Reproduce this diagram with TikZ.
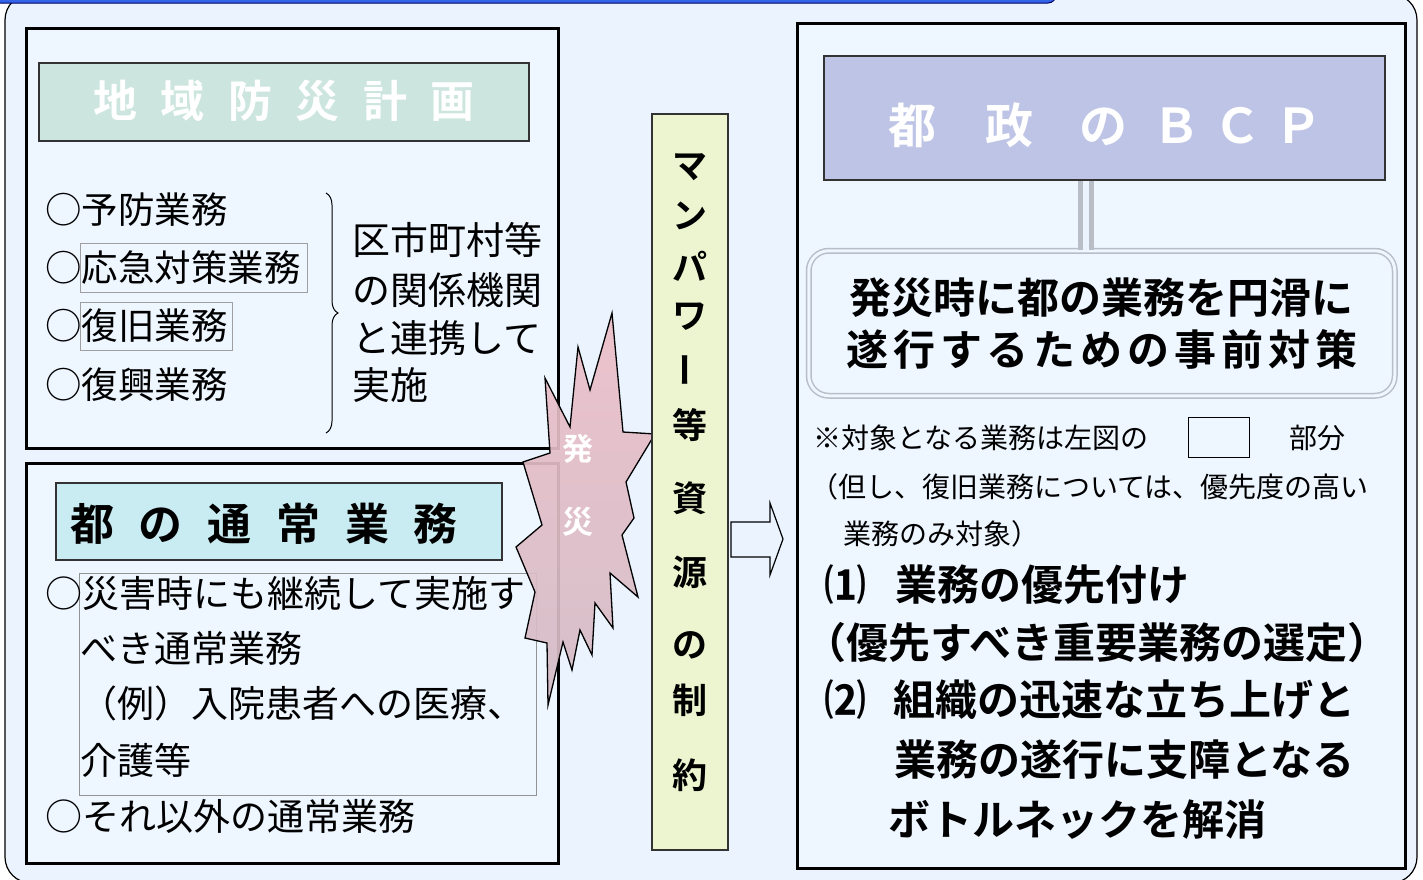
\documentclass[tikz,border=0pt]{standalone}
\usepackage{fontspec}
\setmainfont{Noto Sans CJK JP}[BoldFont={* Bold}]
\usetikzlibrary{decorations.pathreplacing}
\definecolor{bg}{RGB}{234,243,254}
\definecolor{boxbg}{RGB}{238,246,255}
\definecolor{tealbox}{RGB}{204,229,222}
\definecolor{cyanbox}{RGB}{200,236,242}
\definecolor{yel}{RGB}{237,245,208}
\definecolor{lav}{RGB}{190,196,230}
\definecolor{pinkA}{RGB}{236,190,200}
\definecolor{pinkB}{RGB}{212,188,198}
\definecolor{barblue}{RGB}{52,101,232}
\definecolor{dgray}{RGB}{185,190,198}
\newcommand\jfs[1]{\fontsize{#1}{#1}\selectfont}
\begin{document}
\begin{tikzpicture}[x=1pt,y=-1pt,
  frame/.style={draw=black, line width=3pt, fill=boxbg, anchor=north west, inner sep=0},
  titlebox/.style={draw=black!80, line width=1.5pt, anchor=north west, inner sep=0},
  hl/.style={draw=gray!75, line width=1pt, anchor=north west, inner sep=0},
  txt/.style={inner sep=0, anchor=west, font=\jfs{36.5}},
  txtb/.style={inner sep=0, anchor=west, font=\jfs{38}},
  txts/.style={inner sep=0, anchor=west, font=\jfs{28}},
  txtL/.style={inner sep=0, anchor=west, font=\bfseries\jfs{42}},
  vt/.style={inner sep=0, font=\bfseries\jfs{35}},
  boom/.style={white, inner sep=0, font=\bfseries\jfs{31}}]
\useasboundingbox (0,0) rectangle (1423,879);
% outer background
\draw[fill=bg, line width=1.2pt, rounded corners=26] (5,-6) rectangle (1417,883);
\draw[fill=barblue, draw=black!60!blue, line width=1pt, rounded corners=8] (-10,-20) rectangle (1056,3);

% top-left box
\node[frame, minimum width=532, minimum height=420] (boxA) at (25,27) {};
\node[titlebox, fill=tealbox, minimum width=490, minimum height=78] (titleA) at (38,62) {};
\node[inner sep=0, white, font=\bfseries\jfs{44}] (titleAt) at (284,101)
  {\makebox[382pt]{地\hfill 域\hfill 防\hfill 災\hfill 計\hfill 画}};
\node[hl, minimum width=227, minimum height=49] (hlA) at (80,243) {};
\node[hl, minimum width=152, minimum height=48] (hlB) at (80,302) {};
\node[txt] (a1) at (45,210) {○予防業務};
\node[txt] (a2) at (45,268) {○応急対策業務};
\node[txt] (a3) at (45,326) {○復旧業務};
\node[txt] (a4) at (45,385) {○復興業務};
\draw[decorate, decoration={brace, amplitude=12pt}, line width=1pt] (326,193) -- (326,433);
\node[txtb] (b1) at (352,240) {区市町村等};
\node[txtb] (b2) at (352,290) {の関係機関};
\node[txtb] (b3) at (352,338) {と連携して};
\node[txtb] (b4) at (352,385) {実施};

% bottom-left box
\node[frame, minimum width=532, minimum height=400] (boxB) at (25,462) {};
\node[titlebox, fill=cyanbox, minimum width=446, minimum height=77] (titleB) at (55,482) {};
\node[inner sep=0, font=\bfseries\jfs{44}] (titleBt) at (264,524)
  {\makebox[388pt]{都\hfill の\hfill 通\hfill 常\hfill 業\hfill 務}};
\node[hl, draw=gray!85, minimum width=457, minimum height=222] (hlC) at (79,573) {};
\node[txt, font=\jfs{37}] (c1) at (45,593) {○災害時にも継続して実施す};
\node[txt, font=\jfs{37}] (c2) at (80,648) {べき通常業務};
\node[txt, font=\jfs{37}] (c3) at (80,703) {（例）入院患者への医療、};
\node[txt, font=\jfs{37}] (c4) at (80,760) {介護等};
\node[txt, font=\jfs{37}] (c5) at (45,816) {○それ以外の通常業務};

% explosion
\draw[line width=1.3pt, top color=pinkA, bottom color=pinkB, fill opacity=0.92]
  (612,313) -- (623,432) -- (655,434) -- (626,482) -- (634,518) -- (622,535) -- (638,597)
  -- (610,573) -- (613,628) -- (595,603) -- (592,655) -- (580,630) -- (572,670) -- (563,642)
  -- (548,705) -- (547,643) -- (525,638) -- (535,592) -- (516,547) -- (542,525) -- (523,462)
  -- (550,453) -- (545,378) -- (570,427) -- (578,347) -- (590,390) -- cycle;
\node[boom] (e1) at (578,449) {発};
\node[boom] (e2) at (578,522) {災};

% middle column
\node[titlebox, fill=yel, minimum width=76, minimum height=736] (col) at (651,113) {};
\foreach \c/\yy [count=\i] in {マ/167,ン/216,パ/266,ワ/317,等/425,資/498,源/572,の/645,制/700,約/775}
  \node[vt] (v\i) at (690,\yy) {\c};
\node[vt, rotate=90] (vbar) at (690,370) {ー};

% block arrow
\draw[line width=1.2pt, fill=bg] (731,522) -- (770,522) -- (770,503) -- (783,539)
  -- (770,575) -- (770,557) -- (731,557) -- cycle;

% right box
\node[frame, minimum width=608, minimum height=845] (boxR) at (796,22) {};
\node[titlebox, fill=lav, minimum width=561, minimum height=124] (bcp) at (823,55) {};
\node[inner sep=0, anchor=west, white, font=\bfseries\jfs{48}] (bcpt) at (888,125)
  {都\hspace{49pt}政\hspace{46pt}の\hspace{25pt}Ｂ\hspace{13pt}Ｃ\hspace{13pt}Ｐ};
\node[draw=dgray, double=boxbg, double distance=3pt, line width=1.5pt, rounded corners=20,
  minimum width=586, minimum height=145, anchor=north west, inner sep=0, align=center,
  font=\bfseries\fontsize{42}{52}\selectfont] (meas) at (808,250)
  {\makebox[511pt]{発災時に都の業務を円滑に}\\
   \makebox[511pt]{遂\hfill 行\hfill す\hfill る\hfill た\hfill め\hfill の\hfill 事\hfill 前\hfill 対\hfill 策}};
\coordinate (mid) at (1086,0);
\draw[draw=dgray, line width=5pt, double=bg, double distance=6pt] (bcp.south -| mid) -- (meas.north -| mid);

\node[txts] (n1) at (813,438) {※対象となる業務は左図の};
\node[draw, line width=1pt, fill=boxbg, minimum width=61, minimum height=40, anchor=north west] (sq) at (1188,417) {};
\node[txts] (n2) at (1289,438) {部分};
\node[txts] (n3) at (810,487) {（但し、復旧業務については、優先度の高い};
\node[txts] (n4) at (843,534) {業務のみ対象）};
\node[txtL] (m1) at (824,585) {\makebox[71pt][l]{⑴}業務の優先付け};
\node[txtL] (m2) at (804,643) {（優先すべき重要業務の選定）};
\node[txtL] (m3) at (824,700) {\makebox[69pt][l]{⑵}組織の迅速な立ち上げと};
\node[txtL] (m4) at (894,760) {業務の遂行に支障となる};
\node[txtL] (m5) at (888,820) {ボトルネックを解消};
\end{tikzpicture}
\end{document}
